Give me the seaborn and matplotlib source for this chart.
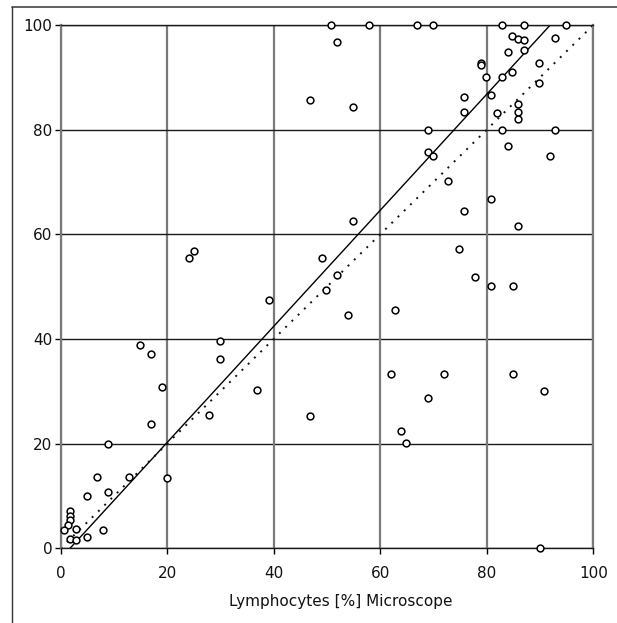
import numpy as np
import pandas as pd
import matplotlib
matplotlib.use("Agg")
import matplotlib.pyplot as plt
from matplotlib.lines import Line2D
import seaborn as sns

# ---- data ----
microscope = [
    50.7, 57.8, 66.9, 69.9, 82.8, 86.9, 94.9,
    51.9, 46.9, 54.9,
    69.0, 69.0, 69.9,
    84.8, 85.8, 86.9, 92.8,
    86.9, 83.9,
    79.0, 79.0, 89.8,
    79.9, 82.8, 84.8, 89.8,
    80.7, 75.8, 75.8,
    85.8, 85.8, 85.8, 81.9,
    82.8, 92.8, 83.9, 91.9,
    72.8, 80.8, 75.8, 85.8,
    74.8, 77.8, 80.8, 84.9,
    71.9, 84.9,
    54.9, 49.0, 51.9, 49.9, 39.1, 53.9, 62.8, 62.0,
    24.0, 25.0, 14.8, 17.0, 29.9, 29.9,
    19.0, 36.9, 16.9, 27.8, 8.9, 12.9, 19.9, 6.9,
    4.9, 8.8, 1.75, 1.75, 1.75, 1.4, 0.7, 2.8, 7.9, 1.75, 2.8, 4.9,
    46.9, 69.0, 63.9, 64.9,
    90.8, 89.9,
]
analyzer = [
    100, 100, 100, 100, 100, 100, 100,
    96.7, 85.7, 84.3,
    80.0, 75.7, 75.0,
    97.9, 97.4, 97.2, 97.6,
    95.3, 94.9,
    92.7, 92.3, 92.8,
    90.0, 90.0, 91.0, 89.0,
    86.6, 86.2, 83.3,
    84.9, 83.4, 82.0, 83.1,
    79.9, 79.9, 76.9, 75.0,
    70.2, 66.8, 64.4, 61.5,
    57.2, 51.8, 50.1, 50.1,
    33.4, 33.4,
    62.5, 55.5, 52.3, 49.3, 47.4, 44.6, 45.5, 33.4,
    55.5, 56.8, 38.8, 37.2, 39.6, 36.1,
    30.8, 30.2, 23.8, 25.4, 19.9, 13.7, 13.5, 13.7,
    10.0, 10.8, 7.1, 6.2, 5.4, 4.5, 3.5, 3.6, 3.5, 1.7, 1.6, 2.1,
    25.2, 28.8, 22.4, 20.2,
    30.0, 0.0,
]
reg_slope = 1.109
reg_intercept = -1.94
ticks = [0, 20, 40, 60, 80, 100]
x_label = "Lymphocytes [%] Microscope"

df = pd.DataFrame({"micro": microscope, "analyzer": analyzer})

sns.set_style("white")
plt.rcParams["font.family"] = ["DejaVu Sans"]

fig = plt.figure(figsize=(6.17, 6.23), dpi=100)
ax = fig.add_axes([60.7 / 617, 1 - 548.3 / 623, (593.3 - 60.7) / 617, (548.3 - 25) / 623])

ax.set_xlim(0, 100)
ax.set_ylim(0, 100)

# grid
for t in ticks:
    ax.axvline(t, color="#7a7a7a", lw=1.6, zorder=1)
    ax.axhline(t, color="#1a1a1a", lw=1.0, zorder=1)

# lines
line_x = np.array([0, 100])
ax.plot(line_x, reg_slope * line_x + reg_intercept, color="black", lw=1.0, zorder=2)
ax.plot(line_x, line_x, color="#111111", lw=1.4, linestyle=(0, (1, 3.5)), zorder=2)

sns.scatterplot(data=df, x="micro", y="analyzer", ax=ax, marker="o", s=24,
                facecolor="white", edgecolor="black", linewidth=1.1, zorder=3, clip_on=False)

ax.set_xticks(ticks)
ax.set_yticks(ticks)
ax.set_xticklabels([str(t) for t in ticks], fontsize=11)
ax.set_yticklabels([str(t) for t in ticks], fontsize=11)
ax.tick_params(axis="both", direction="out", length=4, width=1, color="black",
               bottom=True, left=True, labelcolor="#111111")
ax.tick_params(axis="x", pad=9)
ax.tick_params(axis="y", pad=2)
ax.set_xlabel(x_label, fontsize=11, color="#111111")
ax.xaxis.set_label_coords((341 - 60.7) / 532.6, -0.088)
ax.set_ylabel("")

for side in ["left", "right"]:
    ax.spines[side].set_color("#7a7a7a")
    ax.spines[side].set_linewidth(1.6)
for side in ["top", "bottom"]:
    ax.spines[side].set_color("#1a1a1a")
    ax.spines[side].set_linewidth(1.0)

# outer frame lines
fig.add_artist(Line2D([11.7 / 617, 1.0], [1 - 6.7 / 623, 1 - 6.7 / 623], color="#555555", lw=1.3))
fig.add_artist(Line2D([11.7 / 617, 11.7 / 617], [0, 1 - 6.7 / 623], color="#333333", lw=1.0))

fig.savefig("out.png", dpi=100, facecolor="white")
